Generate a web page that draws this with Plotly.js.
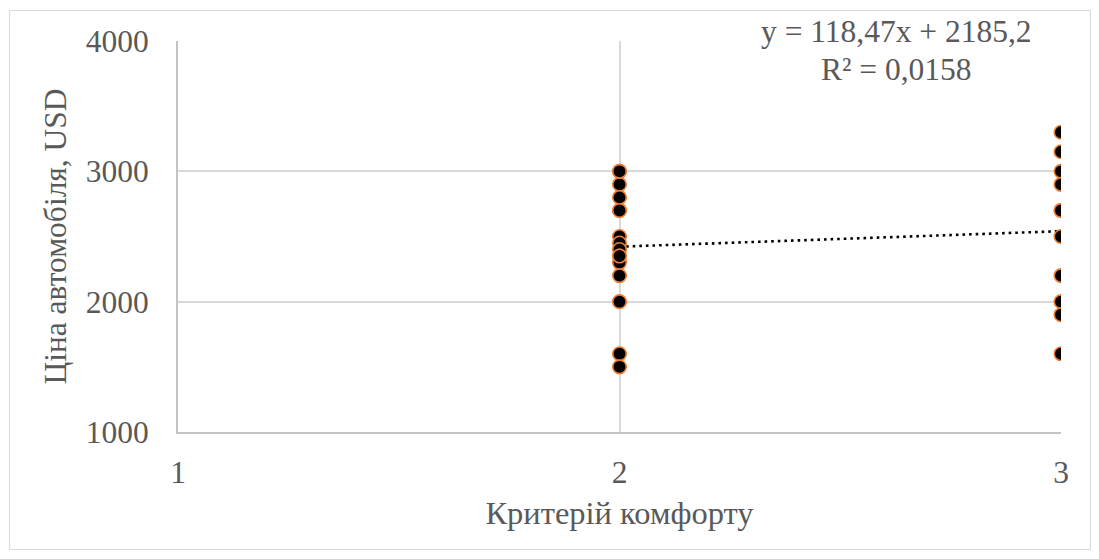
<!DOCTYPE html>
<html>
<head>
<meta charset="utf-8">
<script src="https://cdn.plot.ly/plotly-3.0.1.min.js"></script>
<style>
  body { margin: 0; background: #fff; }
  #chart { width: 1099px; height: 559px; position: absolute; left: 0; top: 0; }
  #frame { position: absolute; left: 9px; top: 10px; width: 1080px; height: 538px; border: 1px solid #d9d9d9; pointer-events: none; }
</style>
</head>
<body>
<div id="chart"></div>
<div id="frame"></div>
<script>
// Comfort criterion (x) and car price in USD (y)
const comfortX = [2,2,2,2,2,2,2,2,2,2,2,2,2,2,2,2,
                  3,3,3,3,3,3,3,3,3,3,3];
const priceY   = [3000,2900,2800,2700,2500,2450,2400,2350,2300,2200,2000,1600,1500,3000,2700,2350,
                  3300,3150,3000,2900,2700,2500,2200,2000,1900,1600,2700];
const xTicks = [1, 2, 3];
const yTicks = [1000, 2000, 3000, 4000];
const xTitle = 'Критерій комфорту';
const yTitle = 'Ціна автомобіля, USD';
const eqLine = 'y = 118,47x + 2185,2';
const r2Line = 'R² = 0,0158';

// least squares linear trend over the data range
const n = comfortX.length;
const mx = comfortX.reduce((a,b)=>a+b,0)/n;
const my = priceY.reduce((a,b)=>a+b,0)/n;
let sxy = 0, sxx = 0;
for (let i = 0; i < n; i++) { sxy += (comfortX[i]-mx)*(priceY[i]-my); sxx += (comfortX[i]-mx)**2; }
const slope = sxy/sxx, icpt = my - slope*mx;
const xmin = Math.min(...comfortX), xmax = Math.max(...comfortX);
const trendX = [xmin, xmax];
const trendY = trendX.map(x => icpt + slope*x);

const mkFont = (s) => ({family: 'Liberation Serif, Times New Roman, serif', color: '#595959', size: s || 31.5});

const data = [
  {
    x: trendX, y: trendY, type: 'scatter', mode: 'lines',
    line: {color: '#000000', width: 2.6, dash: '2.6px,4px'},
    hoverinfo: 'skip', showlegend: false
  },
  {
    x: comfortX, y: priceY, type: 'scatter', mode: 'markers',
    marker: {color: '#000000', size: 13.5, line: {color: '#ED7D31', width: 1.6}},
    showlegend: false
  }
];

const layout = {
  width: 1099, height: 559,
  margin: {l: 178, r: 38, t: 41, b: 127},
  paper_bgcolor: '#ffffff', plot_bgcolor: '#ffffff',
  font: mkFont(),
  showlegend: false,
  xaxis: {
    range: [1, 3], tickvals: xTicks, ticktext: xTicks.map(String),
    showgrid: true, gridcolor: '#d9d9d9', gridwidth: 2,
    showline: true, linecolor: '#c4c4c4', linewidth: 2,
    zeroline: false, ticks: '', ticklabelstandoff: 11,
    tickfont: mkFont(),
    title: {text: xTitle, font: mkFont(32.5), standoff: 12},
    automargin: false
  },
  yaxis: {
    range: [1000, 4000], tickvals: yTicks, ticktext: yTicks.map(String),
    showgrid: true, gridcolor: '#d9d9d9', gridwidth: 2,
    showline: true, linecolor: '#c4c4c4', linewidth: 2,
    zeroline: false, ticks: '', ticklabelstandoff: 21,
    tickfont: mkFont(),
    title: {text: yTitle, font: mkFont(), standoff: 10},
    automargin: false
  },
  annotations: [
    {xref: 'paper', yref: 'paper', x: 0.814, y: 1.025, xanchor: 'center', yanchor: 'middle',
     text: eqLine, showarrow: false, font: mkFont()},
    {xref: 'paper', yref: 'paper', x: 0.814, y: 0.928, xanchor: 'center', yanchor: 'middle',
     text: r2Line, showarrow: false, font: mkFont()}
  ]
};

Plotly.newPlot('chart', data, layout, {displayModeBar: false, staticPlot: true});
</script>
</body>
</html>
